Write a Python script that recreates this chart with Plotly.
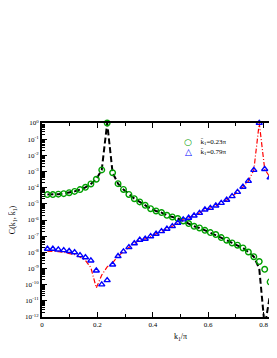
import numpy as np
import plotly.graph_objects as go

# momentum grid k1/pi = n/51
n_idx = list(range(1, 44))
k1 = [n / 51 for n in n_idx]

# log10 C(k1, kbar1)
green_pts_log10 = [-4.43, -4.43, -4.40, -4.37, -4.31, -4.23, -4.12, -3.98, -3.77, -3.48,
                   -2.90, 0.00, -3.08, -3.75, -4.11, -4.42, -4.68, -4.88, -5.09, -5.30,
                   -5.44, -5.54, -5.71, -5.81, -5.91, -6.06, -6.22, -6.39, -6.49, -6.64,
                   -6.78, -6.90, -7.09, -7.25, -7.42, -7.56, -7.73, -7.98, -8.27, -8.57,
                   -9.05, -9.83, -10.90]
green_line_log10 = [-4.43, -4.43, -4.40, -4.37, -4.31, -4.23, -4.12, -3.98, -3.77, -3.48,
                    -2.90, 0.00, -3.08, -3.75, -4.11, -4.42, -4.68, -4.88, -5.09, -5.30,
                    -5.44, -5.54, -5.71, -5.81, -5.91, -6.06, -6.22, -6.39, -6.49, -6.64,
                    -6.78, -6.90, -7.09, -7.25, -7.42, -7.56, -7.73, -7.98, -8.27, -9.00,
                    -12.60, -10.60, -9.30]
blue_pts_log10 = [-7.79, -7.79, -7.83, -7.87, -7.93, -8.00, -8.18, -8.31, -8.51, -9.13,
                  -9.99, -9.73, -8.76, -8.24, -7.95, -7.69, -7.45, -7.23, -7.17, -7.01,
                  -6.86, -6.70, -6.55, -6.39, -6.18, -5.97, -5.87, -5.73, -5.57, -5.36,
                  -5.26, -5.11, -4.95, -4.76, -4.53, -4.27, -3.95, -3.59, -2.91, 0.00,
                  -2.85, -3.37, -3.65]
blue_line_log10 = [-7.92, -7.93, -7.96, -8.00, -8.06, -8.14, -8.29, -8.50, -8.95, -10.20,
                   -9.40, -8.90, -8.65, -8.24, -7.95, -7.69, -7.45, -7.23, -7.17, -7.01,
                   -6.86, -6.70, -6.55, -6.39, -6.18, -5.97, -5.87, -5.73, -5.57, -5.36,
                   -5.26, -5.11, -4.95, -4.76, -4.53, -4.27, -3.95, -3.59, -2.91, 0.00,
                   -2.85, -3.37, -3.65]

legend_labels = ["k\u0304<sub>1</sub>=0.23\u03c0", "k\u0304<sub>1</sub>=0.79\u03c0"]
x_ticks = [0, 0.2, 0.4, 0.6, 0.8, 1.0]
x_tick_text = ["0", "0.2", "0.4", "0.6", "0.8", "1"]
y_exps = list(range(-12, 1))

def vals(lst):
    return [10.0 ** v for v in lst]

serif = "Liberation Serif"
green = "#00a000"
blue = "#0000ff"

fig = go.Figure()
fig.add_trace(go.Scatter(x=k1, y=vals(green_line_log10), mode="lines",
                         line=dict(color="black", width=2, dash="6px,3px"),
                         showlegend=False))
fig.add_trace(go.Scatter(x=k1, y=vals(blue_line_log10), mode="lines",
                         line=dict(color="red", width=1.2, dash="5px,2px,1px,2px"),
                         showlegend=False))
fig.add_trace(go.Scatter(x=k1, y=vals(green_pts_log10), mode="markers", name=legend_labels[0],
                         marker=dict(symbol="circle-open", size=5.6, color=green,
                                     line=dict(width=1.4, color=green)),
                         cliponaxis=False, showlegend=False))
fig.add_trace(go.Scatter(x=k1, y=vals(blue_pts_log10), mode="markers", name=legend_labels[1],
                         marker=dict(symbol="triangle-up-open", size=5.4, color=blue,
                                     line=dict(width=1.4, color=blue)),
                         cliponaxis=False, showlegend=False))

minor_vals = [m * 10.0 ** e for e in range(-12, 0) for m in range(2, 10)]

# legend drawn as annotations (symbol glyph + label)
legend_ann = []
for i, (sym, col) in enumerate([("\u25cb", green), ("\u25b3", blue)]):
    yy = 0.9 - i * 0.05
    legend_ann.append(dict(x=0.623, xref="paper", y=yy, yref="paper", xanchor="center",
                           yanchor="middle", text="<b>%s</b>" % sym, showarrow=False,
                           font=dict(size=9, family="DejaVu Sans", color=col)))
    legend_ann.append(dict(x=0.665, xref="paper", y=yy, yref="paper", xanchor="left",
                           yanchor="middle", text=legend_labels[i], showarrow=False,
                           font=dict(size=7, family=serif, color="black")))

# page body has an 8px margin: figure is sized so the plot lands where the reference has it
fig.update_layout(
    width=269, height=350,
    margin=dict(l=34, r=0, t=115, b=41, autoexpand=False),
    plot_bgcolor="white", paper_bgcolor="white",
    font=dict(family=serif, size=7, color="black"),
    showlegend=False,
    xaxis=dict(range=[0, 235 / 277], showgrid=False, zeroline=False, automargin=False,
               showline=True, linecolor="black", linewidth=2, mirror="ticks",
               ticks="inside", ticklen=5, tickwidth=1, tickcolor="black",
               tickvals=x_ticks, ticktext=x_tick_text,
               minor=dict(ticks="inside", ticklen=3, tickwidth=1, dtick=0.1,
                          tickcolor="black", showgrid=False),
               tickfont=dict(size=7, family=serif)),
    yaxis=dict(type="log", range=[-12, 0], showgrid=False, zeroline=False, automargin=False,
               showline=True, linecolor="black", linewidth=2,
               ticks="inside", ticklen=5, tickwidth=1, tickcolor="black",
               tickvals=[10.0 ** e for e in y_exps],
               ticktext=["10<sup>%d</sup>" % e for e in y_exps],
               minor=dict(ticks="inside", ticklen=2.5, tickwidth=1, tickcolor="black",
                          tickvals=minor_vals, showgrid=False),
               tickfont=dict(size=7, family=serif),
               title=dict(text="C(k<sub>1</sub>, k\u0304<sub>1</sub>)",
                          font=dict(size=8, family=serif), standoff=9)),
    annotations=[dict(x=0.5, xref="x", y=-0.065, yref="paper", yanchor="top",
                      text="k<sub>1</sub>/\u03c0", showarrow=False,
                      font=dict(size=8, family=serif))] + legend_ann,
)

fig.write_html("out.html")
